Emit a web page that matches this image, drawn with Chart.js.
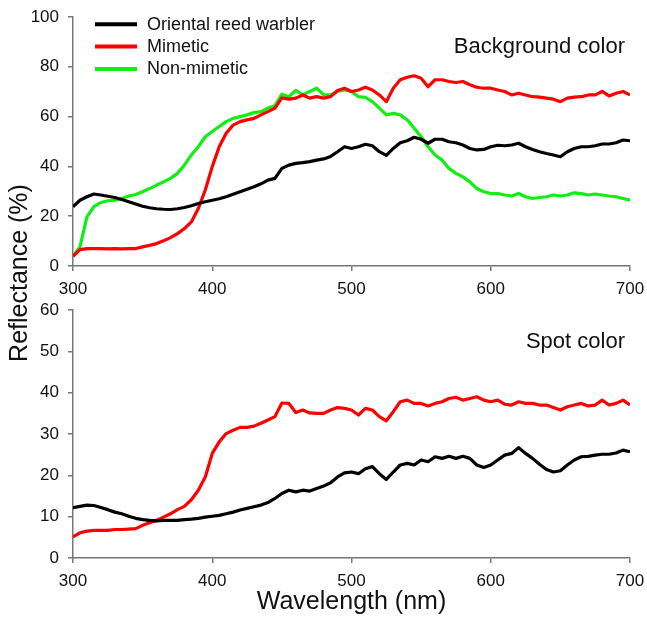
<!DOCTYPE html>
<html>
<head>
<meta charset="utf-8">
<title>Reflectance spectra</title>
<script src="https://cdn.jsdelivr.net/npm/chart.js@4.4.1/dist/chart.umd.min.js"></script>
<style>
    body { margin: 0; background: #fff; }
    #wrap { position: relative; width: 647px; height: 620px; overflow: hidden; }
    #bgChart { position: absolute; left: 0; top: 0; }
    #spotChart { position: absolute; left: 0; top: 300px; }
</style>
</head>
<body>
<div id="wrap">
    <canvas id="bgChart" width="647" height="360" style="width:647px;height:360px"></canvas>
    <canvas id="spotChart" width="647" height="320" style="width:647px;height:320px"></canvas>
</div>
<script>
// 波长 (nm)
const wavelengths = [300, 305, 310, 315, 320, 325, 330, 335, 340, 345, 350, 355, 360, 365, 370, 375, 380, 385, 390, 395,
    400, 405, 410, 415, 420, 425, 430, 435, 440, 445, 450, 455, 460, 465, 470, 475, 480, 485, 490, 495,
    500, 505, 510, 515, 520, 525, 530, 535, 540, 545, 550, 555, 560, 565, 570, 575, 580, 585, 590, 595,
    600, 605, 610, 615, 620, 625, 630, 635, 640, 645, 650, 655, 660, 665, 670, 675, 680, 685, 690, 695, 700];

const seriesNames = ['Oriental reed warbler', 'Mimetic', 'Non-mimetic'];
const xTicks = [300, 400, 500, 600, 700];
const yTicksBg = [0, 20, 40, 60, 80, 100];
const yTicksSpot = [0, 10, 20, 30, 40, 50, 60];

// Background color
const warblerBg = [23.8, 26.4, 27.8, 28.9, 28.5, 28.0, 27.5, 26.7, 25.8, 24.9, 24.0, 23.4, 23.0, 22.8, 22.7, 23.0, 23.5, 24.2, 25.1, 25.8,
    26.4, 27.0, 27.8, 28.8, 29.8, 30.8, 31.8, 33.0, 34.5, 35.2, 39.2, 40.5, 41.2, 41.5, 41.9, 42.5, 43.0, 44.0, 45.9, 47.9,
    47.2, 47.9, 48.9, 48.3, 45.9, 44.4, 47.2, 49.5, 50.3, 51.7, 50.9, 49.3, 50.9, 50.9, 49.9, 49.5, 48.6, 47.2, 46.6, 46.8,
    47.9, 48.5, 48.3, 48.6, 49.3, 47.9, 46.8, 45.9, 45.2, 44.6, 43.9, 45.9, 47.2, 47.9, 47.9, 48.3, 49.0, 49.0, 49.5, 50.6, 50.3];
const mimeticBg = [3.9, 6.6, 7.0, 7.0, 7.0, 6.9, 7.0, 6.9, 7.0, 7.0, 7.7, 8.3, 9.0, 10.1, 11.4, 13.0, 15.0, 17.7, 23.1, 30.5,
    39.9, 47.9, 53.3, 56.6, 58.0, 58.7, 59.3, 60.7, 62.0, 63.4, 67.5, 67.0, 67.4, 68.7, 67.4, 68.0, 67.4, 68.0, 70.5, 71.4,
    70.1, 70.7, 71.8, 70.7, 68.7, 66.0, 71.4, 74.8, 75.8, 76.4, 75.4, 72.0, 74.8, 74.8, 74.1, 73.7, 74.1, 72.8, 71.8, 71.4,
    71.4, 70.7, 70.1, 68.7, 69.4, 68.7, 68.0, 67.8, 67.4, 67.0, 66.0, 67.4, 67.8, 68.0, 68.7, 68.7, 70.1, 68.3, 69.4, 70.1, 68.7];
const nonMimeticBg = [3.9, 7.7, 19.7, 23.8, 25.5, 26.2, 26.4, 27.1, 28.1, 28.7, 29.8, 31.1, 32.5, 33.8, 35.2, 37.2, 40.5, 44.6, 47.9, 51.9,
    54.0, 56.0, 58.0, 59.3, 60.0, 60.7, 61.6, 62.0, 63.4, 64.3, 69.0, 68.0, 70.5, 68.7, 70.1, 71.4, 68.7, 68.7, 70.1, 70.7,
    70.1, 68.0, 67.7, 66.0, 63.4, 60.7, 61.3, 60.7, 58.7, 55.3, 51.9, 47.9, 44.6, 42.6, 39.2, 37.2, 35.8, 33.8, 31.1, 29.8,
    29.1, 29.1, 28.5, 28.1, 29.1, 27.8, 27.1, 27.5, 27.8, 28.5, 28.1, 28.5, 29.4, 29.1, 28.5, 28.9, 28.5, 28.1, 27.8, 27.1, 26.4];

// Spot color
const warblerSpot = [12.2, 12.5, 12.8, 12.7, 12.2, 11.7, 11.1, 10.7, 10.1, 9.6, 9.3, 9.1, 9.0, 9.1, 9.1, 9.1, 9.3, 9.4, 9.6, 9.9,
    10.1, 10.3, 10.7, 11.1, 11.6, 12.0, 12.4, 12.8, 13.4, 14.4, 15.6, 16.4, 16.0, 16.4, 16.2, 16.8, 17.4, 18.2, 19.6, 20.6,
    20.8, 20.4, 21.6, 22.1, 20.4, 19.0, 20.8, 22.5, 22.9, 22.5, 23.7, 23.3, 24.5, 24.1, 24.6, 24.1, 24.6, 24.1, 22.5, 21.9,
    22.5, 23.7, 24.9, 25.3, 26.7, 25.3, 24.1, 22.7, 21.4, 20.8, 21.1, 22.5, 23.7, 24.5, 24.6, 24.9, 25.1, 25.1, 25.4, 26.1, 25.7];
const mimeticSpot = [5.1, 6.1, 6.5, 6.7, 6.7, 6.7, 6.9, 6.9, 7.0, 7.1, 7.9, 8.5, 9.1, 9.9, 10.7, 11.7, 12.5, 14.1, 16.4, 19.6,
    25.3, 28.1, 30.1, 30.9, 31.6, 31.6, 31.9, 32.6, 33.4, 34.2, 37.5, 37.4, 35.2, 35.8, 35.1, 35.0, 35.0, 35.8, 36.4, 36.2,
    35.8, 34.6, 36.2, 35.8, 34.2, 33.2, 35.4, 37.8, 38.2, 37.4, 37.4, 36.8, 37.4, 37.8, 38.6, 38.9, 38.2, 38.6, 39.0, 38.2,
    37.8, 38.2, 37.2, 37.0, 37.8, 37.4, 37.4, 37.0, 37.0, 36.4, 35.8, 36.6, 37.0, 37.4, 36.8, 37.0, 38.2, 37.0, 37.4, 38.2, 37.0];

const COLORS = ['#000000', '#ff0000', '#11ee11'];
const FONT = '"Liberation Sans", Arial, sans-serif';

Chart.defaults.font.family = FONT;
Chart.defaults.color = '#111';

function toPoints(values) {
    return wavelengths.map((w, i) => ({ x: w, y: values[i] }));
}

function makeDataset(idx, values) {
    return {
        label: seriesNames[idx],
        data: toPoints(values),
        borderColor: COLORS[idx],
        backgroundColor: COLORS[idx],
        borderWidth: 3.2,
        pointRadius: 0,
        tension: 0,
        borderJoinStyle: 'round',
        fill: false
    };
}

// 坐标轴公共样式
function xAxis(height, withTitle) {
    return {
        type: 'linear',
        min: 300,
        max: 700,
        afterBuildTicks: s => { s.ticks = xTicks.map(v => ({ value: v })); },
        ticks: { padding: 8, font: { size: 17 }, autoSkip: false },
        grid: { drawOnChartArea: false, drawTicks: true, tickLength: 5, color: '#777', lineWidth: 1.5 },
        border: { display: true, color: '#777', width: 1.5 },
        title: {
            display: withTitle,
            text: 'Wavelength (nm)',
            font: { size: 25 },
            color: '#111',
            padding: { top: 0, bottom: 3 }
        },
        afterFit: s => {
            s.height = height;
            // 不让刻度文字挤占绘图区
            s.paddingLeft = 0;
            s.paddingRight = 0;
        }
    };
}

function yAxis(max, tickList) {
    return {
        min: 0,
        max: max,
        afterBuildTicks: s => { s.ticks = tickList.map(v => ({ value: v })); },
        ticks: { padding: 9, font: { size: 17 } },
        grid: { drawOnChartArea: false, drawTicks: true, tickLength: 5, color: '#777', lineWidth: 1.5 },
        border: { display: true, color: '#777', width: 1.5 },
        afterFit: s => {
            s.width = 73;
            s.paddingTop = 0;
            s.paddingBottom = 0;
        }
    };
}

// 面板标题（右上角）
const panelLabel = {
    id: 'panelLabel',
    afterDraw(chart, args, opts) {
        if (!opts.text) return;
        const ctx = chart.ctx;
        ctx.save();
        ctx.font = `22px ${FONT}`;
        ctx.fillStyle = '#111';
        ctx.textAlign = 'right';
        ctx.textBaseline = 'middle';
        ctx.fillText(opts.text, chart.chartArea.right - 5, chart.chartArea.top + opts.dy);
        ctx.restore();
    }
};

// 图例：左上角，线段 + 文字
const lineLegend = {
    id: 'lineLegend',
    afterDraw(chart, args, opts) {
        if (!opts.show) return;
        const ctx = chart.ctx;
        const left = chart.chartArea.left + 22;
        ctx.save();
        ctx.font = `18px ${FONT}`;
        ctx.textBaseline = 'middle';
        chart.data.datasets.forEach((ds, i) => {
            const y = chart.chartArea.top + 7.3 + i * 22.3;
            ctx.strokeStyle = ds.borderColor;
            ctx.lineWidth = 4;
            ctx.beginPath();
            ctx.moveTo(left, y);
            ctx.lineTo(left + 42, y);
            ctx.stroke();
            ctx.fillStyle = '#111';
            ctx.fillText(ds.label, left + 52, y + 0.5);
        });
        ctx.restore();
    }
};

// 共用纵轴标题
const sharedYTitle = {
    id: 'sharedYTitle',
    afterDraw(chart, args, opts) {
        if (!opts.text) return;
        const ctx = chart.ctx;
        ctx.save();
        ctx.translate(20, 273);
        ctx.rotate(-Math.PI / 2);
        ctx.font = `25px ${FONT}`;
        ctx.fillStyle = '#111';
        ctx.textAlign = 'center';
        ctx.textBaseline = 'middle';
        ctx.fillText(opts.text, 0, 0);
        ctx.restore();
    }
};

const commonPlugins = {
    legend: { display: false },
    tooltip: { enabled: false }
};

new Chart(document.getElementById('bgChart'), {
    type: 'line',
    data: {
        datasets: [
            makeDataset(0, warblerBg),
            makeDataset(1, mimeticBg),
            makeDataset(2, nonMimeticBg)
        ]
    },
    options: {
        responsive: false,
        animation: false,
        layout: { padding: { top: 17, right: 17, bottom: 0, left: 0 } },
        scales: {
            x: xAxis(94, false),
            y: yAxis(100, yTicksBg)
        },
        plugins: Object.assign({}, commonPlugins, {
            panelLabel: { text: 'Background color', dy: 30 },
            lineLegend: { show: true },
            sharedYTitle: { text: 'Reflectance (%)' }
        })
    },
    plugins: [panelLabel, lineLegend, sharedYTitle]
});

new Chart(document.getElementById('spotChart'), {
    type: 'line',
    data: {
        datasets: [
            makeDataset(0, warblerSpot),
            makeDataset(1, mimeticSpot)
        ]
    },
    options: {
        responsive: false,
        animation: false,
        layout: { padding: { top: 10, right: 17, bottom: 0, left: 0 } },
        scales: {
            x: xAxis(62, true),
            y: yAxis(60, yTicksSpot)
        },
        plugins: Object.assign({}, commonPlugins, {
            panelLabel: { text: 'Spot color', dy: 32 },
            lineLegend: { show: false },
            sharedYTitle: { text: '' }
        })
    },
    plugins: [panelLabel, lineLegend, sharedYTitle]
});
</script>
</body>
</html>
